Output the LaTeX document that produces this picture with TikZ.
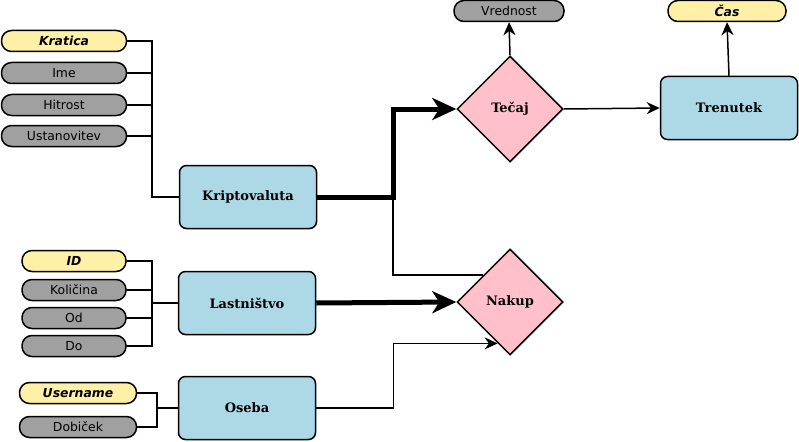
\documentclass[tikz,border=0pt]{standalone}
\usepackage{fontspec}
\setmainfont{DejaVu Sans}
\newfontfamily\entfont{DejaVu Serif}
\usetikzlibrary{shapes.geometric,arrows.meta,calc}
\definecolor{entblue}{HTML}{ADD8E6}
\definecolor{relpink}{HTML}{FFC0CB}
\definecolor{keyyellow}{HTML}{FFF0A8}
\definecolor{attrgrey}{HTML}{A0A0A0}
\tikzset{
  entity/.style={draw, line width=1.5pt, fill=entblue, rounded corners=7pt,
    minimum width=137pt, minimum height=63pt, inner sep=0pt,
    font=\entfont\bfseries\fontsize{13}{15}\selectfont},
  relation/.style={draw, line width=1.5pt, fill=relpink, diamond, aspect=1,
    minimum width=106pt, minimum height=106pt, inner sep=0pt,
    font=\entfont\bfseries\fontsize{13}{15}\selectfont},
  attr/.style={draw, line width=1.5pt, fill=attrgrey, rounded corners=10pt,
    minimum height=21pt, inner sep=0pt, font=\fontsize{12.4}{14}\selectfont},
  keyattr/.style={attr, fill=keyyellow, font=\bfseries\itshape\fontsize{12.4}{14}\selectfont},
  conn/.style={line width=1.5pt},
  thin arrow/.style={line width=1.5pt, -{Stealth[length=13pt,width=12pt]}},
  thick arrow/.style={line width=5pt, -{Stealth[length=24pt,width=22pt,inset=7pt]}},
}
\begin{document}
\begin{tikzpicture}[x=1pt,y=-1pt]
\useasboundingbox (0,0) rectangle (799,441);
% entities
\node[entity] (kripto) at (248,197) {Kriptovaluta};
\node[entity] (last) at (247,303) {Lastništvo};
\node[entity] (oseba) at (247,408) {Oseba};
\node[entity] (trenutek) at (729,108) {Trenutek};
% relations
\node[relation] (tecaj) at (510,109) {Tečaj};
\node[relation] (nakup) at (510,302) {Nakup};
% attributes
\node[keyattr, minimum width=125pt] (kratica) at (64,41) {Kratica};
\node[attr, minimum width=125pt] (ime) at (64,73) {Ime};
\node[attr, minimum width=125pt] (hitrost) at (64,105) {Hitrost};
\node[attr, minimum width=125pt] (ustan) at (64,136) {Ustanovitev};
\node[keyattr, minimum width=104pt] (id) at (74,261) {ID};
\node[attr, minimum width=104pt] (kolicina) at (74,290) {Količina};
\node[attr, minimum width=104pt] (od) at (74,318) {Od};
\node[attr, minimum width=104pt] (do) at (74,346) {Do};
\node[keyattr, minimum width=117pt] (username) at (78,393) {Username};
\node[attr, minimum width=117pt] (dobicek) at (78,427) {Dobiček};
\node[attr, minimum width=110pt] (vrednost) at (509,11) {Vrednost};
\node[keyattr, minimum width=118pt] (cas) at (727,11) {Čas};
% attribute buses
\coordinate (kbus) at (152,197);
\draw[conn] (kratica.east) -| (kbus) -- (kripto.west);
\draw[conn] (ime.east) -- (ime.east -| kbus);
\draw[conn] (hitrost.east) -- (hitrost.east -| kbus);
\draw[conn] (ustan.east) -- (ustan.east -| kbus);
\coordinate (lbus) at (152,303);
\draw[conn] (id.east) -| (lbus);
\draw[conn] (do.east) -| (lbus) -- (last.west);
\draw[conn] (kolicina.east) -- (kolicina.east -| lbus);
\draw[conn] (od.east) -- (od.east -| lbus);
\coordinate (obus) at (157,408);
\draw[conn] (username.east) -| (obus);
\draw[conn] (dobicek.east) -| (obus) -- (oseba.west);
% relationships
\coordinate (kbend) at (393,197);
\draw[conn] (kbend) |- (nakup.north west);
\draw[thick arrow] (kripto.east) -- (kbend) |- (tecaj.west);
\draw[thick arrow] (last.east) -- (nakup.west);
\coordinate (nakupin) at ($(nakup.west)!0.77!(nakup.south)$);
\draw[thin arrow] (oseba.east) -- ++(77,0) |- (nakupin);
\draw[thin arrow] (tecaj.east) -- (trenutek.west);
\draw[thin arrow] (tecaj.north) -- (vrednost.south);
\draw[thin arrow] (trenutek.north) -- (cas.south);
\end{tikzpicture}
\end{document}
